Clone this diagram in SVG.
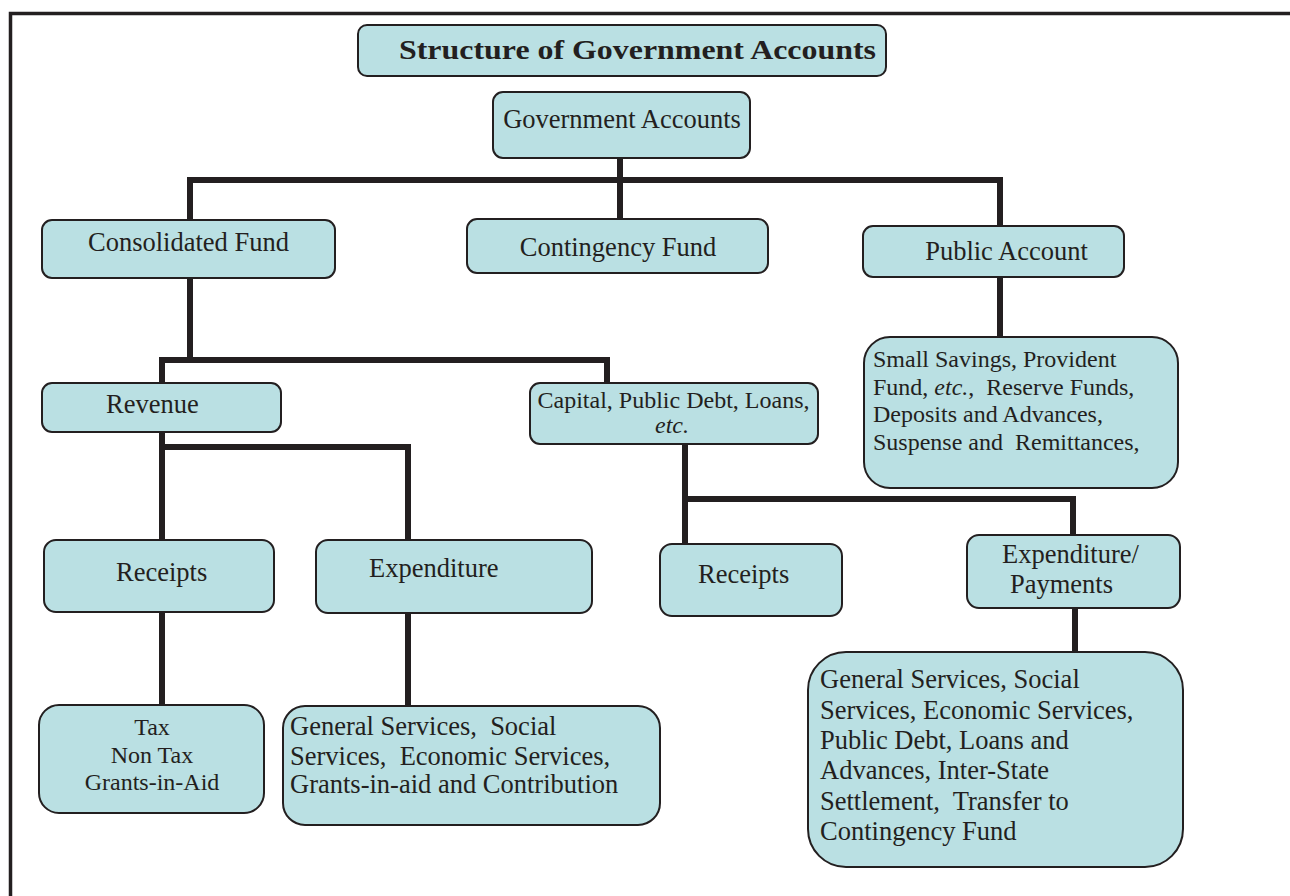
<svg xmlns="http://www.w3.org/2000/svg" width="1290" height="896" viewBox="0 0 1290 896">
<style>
.box{fill:#bae0e3;stroke:#231f20;stroke-width:2}
.t{font-family:"Liberation Serif","Times New Roman",serif;font-size:26.5px;fill:#231f20}
.s{font-size:24px}
.c{text-anchor:middle}
.conn{fill:none;stroke:#231f20;stroke-width:6;stroke-linejoin:miter}
</style>
<rect width="1290" height="896" fill="#ffffff"/>
<rect x="10.5" y="13.5" width="1300" height="900" fill="none" stroke="#231f20" stroke-width="3.5"/>
<g id="connectors" class="conn">
<path d="M190,220 V180 H1000 V226"/>
<path d="M620,158 V219"/>
<path d="M1000,277 V337"/>
<path d="M190,278 V360"/>
<path d="M162,383 V360 H607 V383"/>
<path d="M162,432 V540"/>
<path d="M162,447 H408 V540"/>
<path d="M162,612 V705"/>
<path d="M408,613 V706"/>
<path d="M685,444 V544"/>
<path d="M685,499 H1073 V535"/>
<path d="M1075,608 V652"/>
</g>
<g id="title">
<rect class="box" x="358" y="25" width="528" height="51" rx="9"/>
<text class="t" x="399" y="59" font-weight="bold" font-size="32" textLength="477" lengthAdjust="spacingAndGlyphs">Structure of Government Accounts</text>
</g>
<g id="gov">
<rect class="box" x="493" y="92" width="257" height="66" rx="10"/>
<text class="t c" x="622" y="128">Government Accounts</text>
</g>
<g id="consolidated">
<rect class="box" x="42" y="220" width="293" height="58" rx="10"/>
<text class="t c" x="188.5" y="251">Consolidated Fund</text>
</g>
<g id="contingency">
<rect class="box" x="467" y="219" width="301" height="54" rx="10"/>
<text class="t c" x="618" y="256">Contingency Fund</text>
</g>
<g id="public">
<rect class="box" x="863" y="226" width="261" height="51" rx="10"/>
<text class="t c" x="1006.5" y="260">Public Account</text>
</g>
<g id="smallsavings">
<rect class="box" x="864" y="337" width="314" height="151" rx="26"/>
<text class="t s" x="873" y="367">Small Savings, Provident</text>
<text class="t s" x="873" y="395" xml:space="preserve">Fund, <tspan font-style="italic">etc.</tspan>,  Reserve Funds,</text>
<text class="t s" x="873" y="422">Deposits and Advances,</text>
<text class="t s" x="873" y="450" xml:space="preserve">Suspense and  Remittances,</text>
</g>
<g id="revenue">
<rect class="box" x="42" y="383" width="239" height="49" rx="10"/>
<text class="t" x="106" y="413">Revenue</text>
</g>
<g id="capital">
<rect class="box" x="530" y="383" width="288" height="61" rx="10"/>
<text class="t s c" x="673.5" y="408">Capital, Public Debt, Loans,</text>
<text class="t s c" x="672" y="433" font-style="italic">etc.</text>
</g>
<g id="receipts1">
<rect class="box" x="44" y="540" width="230" height="72" rx="12"/>
<text class="t" x="116" y="581">Receipts</text>
</g>
<g id="expenditure1">
<rect class="box" x="316" y="540" width="276" height="73" rx="12"/>
<text class="t" x="369" y="577">Expenditure</text>
</g>
<g id="receipts2">
<rect class="box" x="660" y="544" width="182" height="72" rx="12"/>
<text class="t" x="698" y="583">Receipts</text>
</g>
<g id="expenditure2">
<rect class="box" x="967" y="535" width="213" height="73" rx="12"/>
<text class="t" x="1002" y="563">Expenditure/</text>
<text class="t" x="1010" y="593">Payments</text>
</g>
<g id="tax">
<rect class="box" x="39" y="705" width="225" height="108" rx="20"/>
<text class="t s c" x="152" y="735">Tax</text>
<text class="t s c" x="152" y="763">Non Tax</text>
<text class="t s c" x="152" y="790">Grants-in-Aid</text>
</g>
<g id="services1">
<rect class="box" x="283" y="706" width="377" height="119" rx="22"/>
<text class="t" x="290" y="735" xml:space="preserve">General Services,  Social</text>
<text class="t" x="290" y="765" xml:space="preserve">Services,  Economic Services,</text>
<text class="t" x="290" y="793">Grants-in-aid and Contribution</text>
</g>
<g id="services2">
<rect class="box" x="808" y="652" width="375" height="215" rx="38"/>
<text class="t" x="820" y="688">General Services, Social</text>
<text class="t" x="820" y="719">Services, Economic Services,</text>
<text class="t" x="820" y="749">Public Debt, Loans and</text>
<text class="t" x="820" y="779">Advances, Inter-State</text>
<text class="t" x="820" y="810" xml:space="preserve">Settlement,  Transfer to</text>
<text class="t" x="820" y="840">Contingency Fund</text>
</g>
</svg>
